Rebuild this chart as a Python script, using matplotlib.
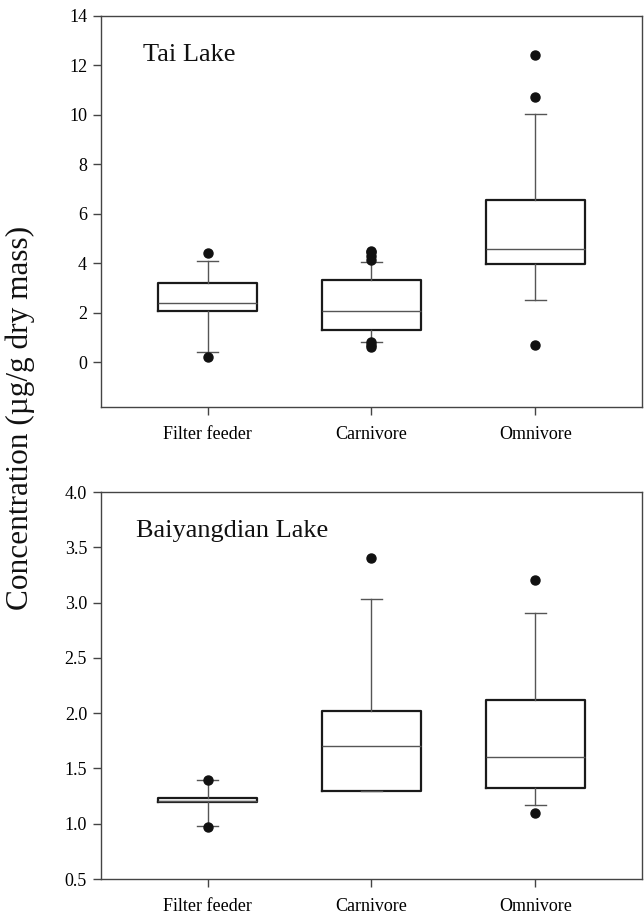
import numpy as np
import matplotlib
matplotlib.use("Agg")
import matplotlib.pyplot as plt

plt.rcParams['font.family'] = ['Liberation Serif', 'DejaVu Serif']

groups = ["Filter feeder", "Carnivore", "Omnivore"]

# Tai Lake
tai_q1 = [2.10, 1.30, 3.99]
tai_med = [2.40, 2.10, 4.60]
tai_q3 = [3.20, 3.35, 6.58]
tai_lo = [0.44, 0.82, 2.53]
tai_hi = [4.09, 4.07, 10.04]
tai_fliers = [[0.21, 4.42], [0.62, 0.72, 0.82, 4.15, 4.3, 4.45, 4.52], [0.69, 10.72, 12.41]]

# Baiyangdian Lake
bai_q1 = [1.20, 1.30, 1.32]
bai_med = [1.21, 1.70, 1.60]
bai_q3 = [1.23, 2.02, 2.12]
bai_lo = [0.98, 1.30, 1.17]
bai_hi = [1.40, 3.03, 2.91]
bai_fliers = [[0.97, 1.40], [3.40], [1.10, 3.20]]


def make_stats(q1, med, q3, lo, hi, fl):
    stats = []
    for i in range(len(groups)):
        stats.append(dict(q1=q1[i], med=med[i], q3=q3[i], whislo=lo[i], whishi=hi[i],
                          fliers=fl[i], label=groups[i]))
    return stats


def draw_panel(ax, stats, title, tx):
    ax.bxp(stats, positions=[1, 2, 3], widths=0.6, showfliers=True,
           boxprops=dict(color="#1a1a1a", linewidth=1.6),
           medianprops=dict(color="#555555", linewidth=1.0),
           whiskerprops=dict(color="#555555", linewidth=1.0),
           capprops=dict(color="#555555", linewidth=1.0),
           capwidths=0.13,
           flierprops=dict(marker="o", markerfacecolor="#111111", markeredgecolor="#111111",
                           markersize=6.5, linestyle="none"))
    ax.set_xlim(0.35, 3.65)
    ax.set_xticks([1, 2, 3])
    ax.set_xticklabels(groups, fontsize=13)
    for s in ax.spines.values():
        s.set_color("#444444")
        s.set_linewidth(1.0)
    ax.tick_params(direction="out", length=6, width=1, color="#444444", labelsize=13, pad=4)
    ax.tick_params(axis="x", pad=8)
    ax.text(tx, 0.9, title, transform=ax.transAxes, fontsize=19, va="center", ha="left",
            color="#111111")


fig = plt.figure(figsize=(6.44, 9.19), dpi=100)
ax1 = fig.add_axes([0.1568, 0.5571, 0.8400, 0.4255])
ax2 = fig.add_axes([0.1568, 0.0435, 0.8400, 0.4211])

draw_panel(ax1, make_stats(tai_q1, tai_med, tai_q3, tai_lo, tai_hi, tai_fliers), "Tai Lake", 0.078)
ax1.set_ylim(-1.8, 14)
ax1.set_yticks(np.arange(0, 15, 2))

draw_panel(ax2, make_stats(bai_q1, bai_med, bai_q3, bai_lo, bai_hi, bai_fliers), "Baiyangdian Lake", 0.064)
ax2.set_ylim(0.5, 4.0)
ax2.set_yticks(np.arange(0.5, 4.01, 0.5))
ax2.set_yticklabels(["%.1f" % v for v in np.arange(0.5, 4.01, 0.5)])

fig.text(0.032, 0.545, "Concentration (\u00b5g/g dry mass)", rotation=90, fontsize=22.5,
         va="center", ha="center", color="#111111")

fig.savefig("out.png", dpi=100)
